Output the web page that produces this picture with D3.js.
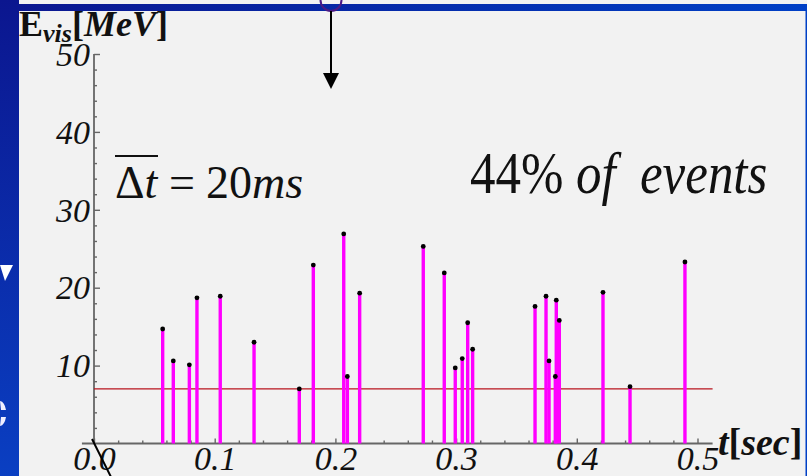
<!DOCTYPE html>
<html>
<head>
<meta charset="utf-8">
<script src="https://cdn.jsdelivr.net/npm/d3@7"></script>
<style>
  html, body { margin: 0; padding: 0; background: #f2f2f2; }
  svg { display: block; }
  .serif { font-family: "Liberation Serif", "DejaVu Serif", serif; }
</style>
</head>
<body>
<svg id="chart" width="807" height="476"></svg>
<script>
// Event arrival times (s) and visible energies (MeV)
const times = [0.0569, 0.0657, 0.0790, 0.0853, 0.1046, 0.1326, 0.1701, 0.1817, 0.2069, 0.2099,
               0.2201, 0.2728, 0.2902, 0.2993, 0.3051, 0.3096, 0.3137, 0.3654, 0.3745, 0.3770,
               0.3822, 0.3830, 0.3855, 0.4217, 0.4441, 0.4896];
const energies = [14.7, 10.6, 10.1, 18.7, 18.9, 13.0, 7.0, 22.9, 26.9, 8.6,
                  19.3, 25.3, 21.9, 9.7, 10.9, 15.5, 12.1, 17.6, 18.9, 10.6,
                  8.6, 18.4, 15.8, 19.4, 7.3, 23.3];
const threshold = 7;
const xTickValues = [0, 0.1, 0.2, 0.3, 0.4, 0.5];
const xMinorValues = [0.02, 0.04, 0.06, 0.08, 0.12, 0.14, 0.16, 0.18, 0.22, 0.24, 0.26, 0.28,
                      0.32, 0.34, 0.36, 0.38, 0.42, 0.44, 0.46, 0.48];
const yTickValues = [10, 20, 30, 40, 50];
const yMinorValues = [2, 4, 6, 8, 12, 14, 16, 18, 22, 24, 26, 28, 32, 34, 36, 38, 42, 44, 46, 48];

const svg = d3.select("#chart");
const W = 807, H = 476;

const x = d3.scaleLinear().domain([0, 0.5]).range([94, 697.5]);
const y = d3.scaleLinear().domain([0, 50]).range([443.5, 54]);

// slide background
svg.append("rect").attr("width", W).attr("height", H).attr("fill", "#f2f2f2");

const defs = svg.append("defs");
const gTop = defs.append("linearGradient").attr("id", "bandTop").attr("x1", 0).attr("x2", 1).attr("y1", 0).attr("y2", 0);
gTop.append("stop").attr("offset", "0%").attr("stop-color", "#0b168f");
gTop.append("stop").attr("offset", "100%").attr("stop-color", "#0040c6");
const gLeft = defs.append("linearGradient").attr("id", "bandLeft").attr("x1", 0).attr("x2", 0).attr("y1", 0).attr("y2", 1);
gLeft.append("stop").attr("offset", "0%").attr("stop-color", "#0b168f");
gLeft.append("stop").attr("offset", "100%").attr("stop-color", "#0a3fc2");

// plot group
const plot = svg.append("g");

// y axis: major and minor ticks pointing into the plot
const axisColor = "#666";
const yMajor = plot.append("g").attr("transform", `translate(${x(0)},0)`)
  .call(d3.axisLeft(y).tickValues(yTickValues).tickSize(-6).tickSizeOuter(0).tickPadding(5)
        .tickFormat(d3.format("d")));
const yMinor = plot.append("g").attr("transform", `translate(${x(0)},0)`)
  .call(d3.axisLeft(y).tickValues(yMinorValues).tickSize(-3).tickSizeOuter(0).tickFormat(""));
const xMajor = plot.append("g").attr("transform", `translate(0,${y(0)})`)
  .call(d3.axisBottom(x).tickValues(xTickValues).tickSize(-5).tickSizeOuter(0).tickPadding(4)
        .tickFormat(d3.format(".1f")));
const xMinor = plot.append("g").attr("transform", `translate(0,${y(0)})`)
  .call(d3.axisBottom(x).tickValues(xMinorValues).tickSize(-3).tickSizeOuter(0).tickFormat(""));

[yMajor, yMinor, xMajor, xMinor].forEach(g => {
  g.attr("font-family", null);
  g.select(".domain").remove();
  g.selectAll(".tick line").attr("stroke", axisColor).attr("stroke-width", 1.4);
});
yMajor.selectAll(".tick text").attr("class", "serif")
  .attr("font-style", "italic").attr("font-size", 34)
  .attr("fill", "#111").attr("x", -4).attr("dy", "0.33em");
xMajor.selectAll(".tick text").attr("class", "serif")
  .attr("font-style", "italic").attr("font-size", 34)
  .attr("fill", "#111").attr("dy", "0.66em");

// axis lines
plot.append("line")
  .attr("x1", x(0)).attr("x2", x(0)).attr("y1", y(50)).attr("y2", y(0))
  .attr("stroke", axisColor).attr("stroke-width", 1.8);
plot.append("line")
  .attr("x1", x(-0.01)).attr("x2", x(0.5125)).attr("y1", y(0)).attr("y2", y(0))
  .attr("stroke", axisColor).attr("stroke-width", 1.8);

// threshold line
plot.append("line")
  .attr("x1", x(0)).attr("x2", x(0.5125)).attr("y1", y(threshold)).attr("y2", y(threshold))
  .attr("stroke", "#b8141e").attr("stroke-width", 1.2);

// event stems and markers
const events = times.map((t, i) => ({ t, e: energies[i] }));
plot.selectAll("line.stem").data(events).join("line").attr("class", "stem")
  .attr("x1", d => x(d.t)).attr("x2", d => x(d.t))
  .attr("y1", y(0)).attr("y2", d => y(d.e))
  .attr("stroke", "#ff00ff").attr("stroke-width", 3.4);
plot.selectAll("circle.pt").data(events).join("circle").attr("class", "pt")
  .attr("cx", d => x(d.t)).attr("cy", d => y(d.e)).attr("r", 2.4)
  .attr("fill", "#000");

// slash mark at the origin
plot.append("line")
  .attr("x1", 92).attr("y1", 439).attr("x2", 111).attr("y2", 477)
  .attr("stroke", "#000").attr("stroke-width", 2);

// axis titles
const ylab = svg.append("text").attr("class", "serif").attr("x", 19).attr("y", 36)
  .attr("font-weight", "bold").attr("font-size", 36).attr("fill", "#111");
ylab.append("tspan").text("E");
ylab.append("tspan").attr("font-size", 26).attr("font-style", "italic").attr("dy", 6).text("vis");
ylab.append("tspan").attr("dy", -6).text("[");
ylab.append("tspan").attr("font-style", "italic").text("MeV");
ylab.append("tspan").text("]");

const xlab = svg.append("text").attr("class", "serif").attr("x", 718).attr("y", 455)
  .attr("font-weight", "bold").attr("font-size", 38).attr("fill", "#111");
xlab.append("tspan").attr("font-style", "italic").text("t");
xlab.append("tspan").text("[");
xlab.append("tspan").attr("font-style", "italic").text("sec");
xlab.append("tspan").text("]");

// mean interval annotation
const dt = svg.append("text").attr("class", "serif").attr("y", 198)
  .attr("font-size", 46).attr("font-weight", "normal").attr("fill", "#111");
dt.append("tspan").attr("x", 115).text("Δ");
dt.append("tspan").attr("font-style", "italic").text("t");
dt.append("tspan").attr("x", 169).text("=");
dt.append("tspan").attr("x", 206).text("20");
dt.append("tspan").attr("font-style", "italic").text("ms");
svg.append("line").attr("x1", 115).attr("x2", 158).attr("y1", 156).attr("y2", 156)
  .attr("stroke", "#111").attr("stroke-width", 2);

// fraction annotation
const frac = svg.append("text").attr("class", "serif").attr("transform", "translate(470,193) scale(1,1.15)")
  .attr("font-size", 51).attr("font-weight", "normal").attr("fill", "#111");
frac.append("tspan").attr("x", 0).text("44%");
frac.append("tspan").attr("x", 106).attr("font-style", "italic").text("of");
frac.append("tspan").attr("x", 170).attr("font-style", "italic").text("events");

// slide frame
svg.append("rect").attr("x", 0).attr("y", 4).attr("width", W).attr("height", 7).attr("fill", "url(#bandTop)");
svg.append("rect").attr("x", 0).attr("y", 0).attr("width", 19).attr("height", H).attr("fill", "url(#bandLeft)");
svg.append("rect").attr("x", 805.5).attr("y", 4).attr("width", 1.5).attr("height", H).attr("fill", "#0040c6");

// fragments of slide bullets on the left band
svg.append("path").attr("d", "M0,265 L13,265 L5,281 Z").attr("fill", "#fff");
svg.append("path").attr("d", "M0,401 A7,13 0 0 1 6,410 L1,410 Z M0,426 A7,13 0 0 0 6,417 L1,417 Z")
  .attr("fill", "#eef");

// callout: ellipse with downward arrow
svg.append("ellipse").attr("cx", 331).attr("cy", 0).attr("rx", 10.5).attr("ry", 11)
  .attr("fill", "none").attr("stroke", "#4a1a86").attr("stroke-width", 2);
svg.append("line").attr("x1", 331).attr("x2", 331).attr("y1", 11).attr("y2", 76)
  .attr("stroke", "#000").attr("stroke-width", 2);
svg.append("path").attr("d", "M323,73 L339,73 L331,89 Z").attr("fill", "#000");
</script>
</body>
</html>
